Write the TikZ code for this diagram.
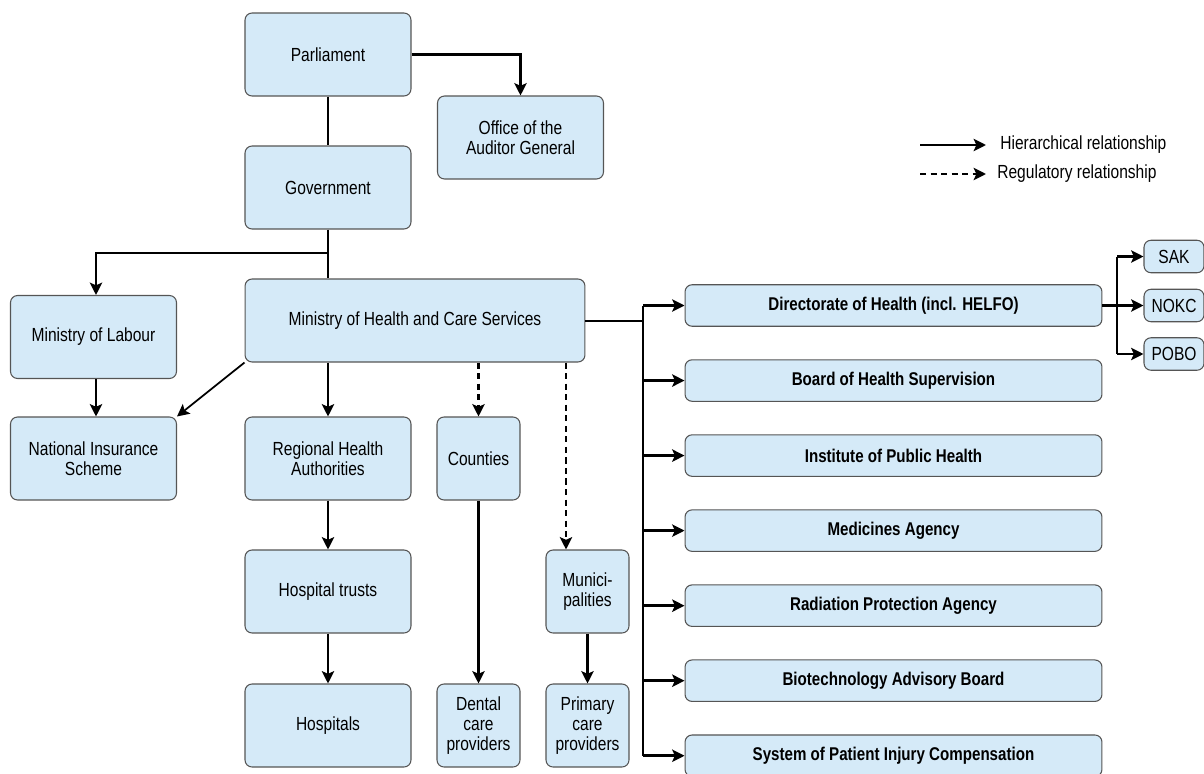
\documentclass[tikz,border=0pt]{standalone}
\usepackage{fontspec}
\setmainfont{Liberation Sans}[FakeStretch=0.82]
\usetikzlibrary{arrows.meta,positioning}
\definecolor{boxfill}{HTML}{D5EAF8}
\definecolor{boxline}{HTML}{555555}

\begin{document}
\begin{tikzpicture}[x=0.02cm, y=-0.02cm,
    org/.style = {draw = boxline, fill = boxfill, rounded corners = 4pt, line width = 0.6pt,
                  align = center, inner sep = 0pt, minimum width = 3.32cm, minimum height = 1.66cm,
                  font = \fontsize{10.8}{11.3}\selectfont},
    narrow/.style = {org, minimum width = 1.66cm},
    agency/.style = {org, minimum width = 8.34cm, minimum height = 0.83cm,
                     font = \fontsize{10.5}{11.3}\selectfont\bfseries},
    unit/.style = {org, minimum width = 1.2cm, minimum height = 0.65cm},
    plain/.style = {line width = 1.5pt},
    hier/.style = {plain, -{Stealth[length = 7pt, width = 7pt, inset = 1.5pt]}},
    regu/.style = {hier, dash pattern = on 3.5pt off 2.5pt},
    legend/.style = {anchor = west, inner sep = 0pt, font = \fontsize{10.8}{11.3}\selectfont}]

    \useasboundingbox (0,0) rectangle (1204,774);

    \node[org] (parl) at (328,54.5) {Parliament};
    \node[org] (oag) at (520.5,137.5) {Office of the\\Auditor General};
    \node[org] (gov) at (328,187.5) {Government};
    \node[org] (mol) at (93.5,337) {Ministry of Labour};
    \node[org, minimum width = 6.8cm] (moh) at (415,320.5) {Ministry of Health and Care Services};
    \node[org] (nis) at (93.5,458.5) {National Insurance\\Scheme};
    \node[org] (rha) at (328,458.5) {Regional Health\\Authorities};
    \node[narrow] (cty) at (478.5,458.5) {Counties};
    \node[org] (trust) at (328,591.5) {Hospital trusts};
    \node[org] (hosp) at (328,725.5) {Hospitals};
    \node[narrow] (mun) at (587.5,591.5) {Munici-\\palities};
    \node[narrow] (dent) at (478.5,725.5) {Dental\\care\\providers};
    \node[narrow] (prim) at (587.5,725.5) {Primary\\care\\providers};

    \node[agency] (dir) at (893.5,305.5) {Directorate of Health (incl. HELFO)};
    \node[agency, below = 0.65cm of dir] (bhs) {Board of Health Supervision};
    \node[agency, below = 0.65cm of bhs] (iph) {Institute of Public Health};
    \node[agency, below = 0.65cm of iph] (med) {Medicines Agency};
    \node[agency, below = 0.65cm of med] (rpa) {Radiation Protection Agency};
    \node[agency, below = 0.65cm of rpa] (bab) {Biotechnology Advisory Board};
    \node[agency, below = 0.65cm of bab] (spi) {System of Patient Injury Compensation};

    \node[unit] (sak) at (1174,256.5) {SAK};
    \node[unit] (nokc) at (1174,305.5) {NOKC};
    \node[unit] (pobo) at (1174,354) {POBO};

    \coordinate (hfrom) at (920,145);
    \coordinate (hto) at (986,145);
    \coordinate (rfrom) at (920,174);
    \coordinate (rto) at (986,174);
    \node[legend] (hlab) at (1000,145) {Hierarchical relationship};
    \node[legend] (rlab) at (997,174) {Regulatory relationship};
    \draw[hier] (hfrom) -- (hto);
    \draw[regu] (rfrom) -- (rto);

    \draw[plain] (parl) -- (gov);
    \draw[hier] (parl.east) -| (oag.north);
    \draw[plain] (gov.south) -- (gov.south |- moh.north);
    \coordinate (split) at (328,253);
    \draw[hier] (split) -| ([xshift = 0.05cm]mol.north);
    \draw[hier] ([xshift = 0.05cm]mol.south) -- ([xshift = 0.05cm]nis.north);
    \draw[hier, line width = 1pt] (moh.south west) -- (nis.north east);
    \draw[hier] (rha.north |- moh.south) -- (rha.north);
    \draw[regu] (cty.north |- moh.south) -- (cty.north);
    \draw[regu] ([xshift = -0.43cm]mun.north |- moh.south) -- ([xshift = -0.43cm]mun.north);
    \draw[hier] (rha) -- (trust);
    \draw[hier] (trust) -- (hosp);
    \draw[hier] (cty) -- (dent);
    \draw[hier] (mun) -- (prim);

    \coordinate (bus) at (643,321);
    \draw[plain] (moh.east |- bus) -- (bus);
    \draw[plain] (bus |- dir.west) -- (bus |- spi.west);
    \foreach \a in {dir, bhs, iph, med, rpa, bab, spi}
      \draw[hier] (bus |- \a.west) -- (\a.west);

    \coordinate (dbus) at (1117,305.5);
    \draw[plain] (dir.east) -- (dbus);
    \draw[plain] (dbus |- sak.west) -- (dbus |- pobo.west);
    \foreach \u in {sak, nokc, pobo}
      \draw[hier] (dbus |- \u.west) -- (\u.west);
\end{tikzpicture}
\end{document}
